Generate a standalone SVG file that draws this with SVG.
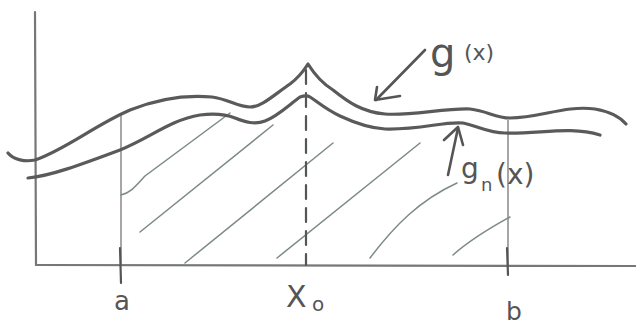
<svg xmlns="http://www.w3.org/2000/svg" width="636" height="329" viewBox="0 0 636 329">
<defs>
<style>
.axis{fill:none;stroke:#777;stroke-width:2.2;stroke-linecap:round}
.curve{fill:none;stroke:#5a5a5a;stroke-width:3.2;stroke-linecap:round;stroke-linejoin:round}
.hatch{fill:none;stroke:#7c8a88;stroke-width:1.5;stroke-linecap:round}
.guide{fill:none;stroke:#888;stroke-width:1.5}
.tick{fill:none;stroke:#555;stroke-width:2.2;stroke-linecap:round}
.arrow{fill:none;stroke:#555;stroke-width:2.6;stroke-linecap:round;stroke-linejoin:round}
.lbl{font-family:"DejaVu Sans","Liberation Sans",sans-serif;fill:#555}
</style>
</defs>
<rect width="636" height="329" fill="#ffffff"/>
<g id="axes">
<path class="axis" d="M35,12 L36,265"/>
<path class="axis" d="M36,265 L636,266"/>
</g>
<g id="hatching">
<path class="hatch" d="M121,195 C130,193 134,188 145,176 L230,113"/>
<path class="hatch" d="M140,232 L273,125"/>
<path class="hatch" d="M185,263 L333,143"/>
<path class="hatch" d="M277,258 L420,143"/>
<path class="hatch" d="M370,258 C395,225 420,200 457,183"/>
<path class="hatch" d="M453,255 C470,240 490,228 510,217"/>
</g>
<g id="guides">
<path class="guide" d="M121,115 L121,265"/>
<path class="guide" d="M508,120 L508,265"/>
<path class="tick" d="M120,248 L121,283"/>
<path class="tick" d="M507,248 L508,275"/>
<path class="tick" d="M306,70 L306,265" stroke-dasharray="14,9"/>
</g>
<g id="curve-g">
<path class="curve" d="M8,153 C14,160 25,162 35,160 C65,150 95,125 130,110 C160,98 190,95 212,97 C228,99 238,107 250,107 C262,107 275,94 290,84 C298,78 303,72 308,64 C313,72 320,82 333,90 C348,102 362,112 385,114 C410,116 445,108 470,109 C488,111 495,118 510,118 C540,118 565,105 595,109 C612,112 620,117 626,124"/>
</g>
<g id="curve-gn">
<path class="curve" d="M28,178 C50,176 80,165 120,150 C150,138 170,120 200,115 C215,113 225,114 235,118 C245,122 255,125 265,121 C278,116 290,104 300,97 C303,96 307,95 310,97 C318,102 325,109 340,116 C355,123 368,128 385,129 C420,130 445,121 463,123 C478,126 488,133 505,133 C540,134 570,126 600,135"/>
</g>
<g id="arrow-g">
<path class="arrow" d="M425,50 L376,100"/>
<path class="arrow" d="M377,87 L375,100 L400,96"/>
</g>
<g id="arrow-gn">
<path class="arrow" d="M448,175 L458,128"/>
<path class="arrow" d="M444,140 L458,127 L463,145"/>
</g>
<g id="labels">
<text class="lbl" x="430" y="67" font-size="40">g</text>
<text class="lbl" x="464" y="60" font-size="22">(x)</text>
<text class="lbl" x="461" y="178" font-size="28">g</text>
<text class="lbl" x="481" y="191" font-size="18">n</text>
<text class="lbl" x="496" y="184" font-size="28">(x)</text>
<text class="lbl" x="114" y="310" font-size="26">a</text>
<text class="lbl" x="286" y="307" font-size="30">X</text>
<text class="lbl" x="312" y="311" font-size="20">o</text>
<text class="lbl" x="506" y="320" font-size="25">b</text>
</g>
</svg>
